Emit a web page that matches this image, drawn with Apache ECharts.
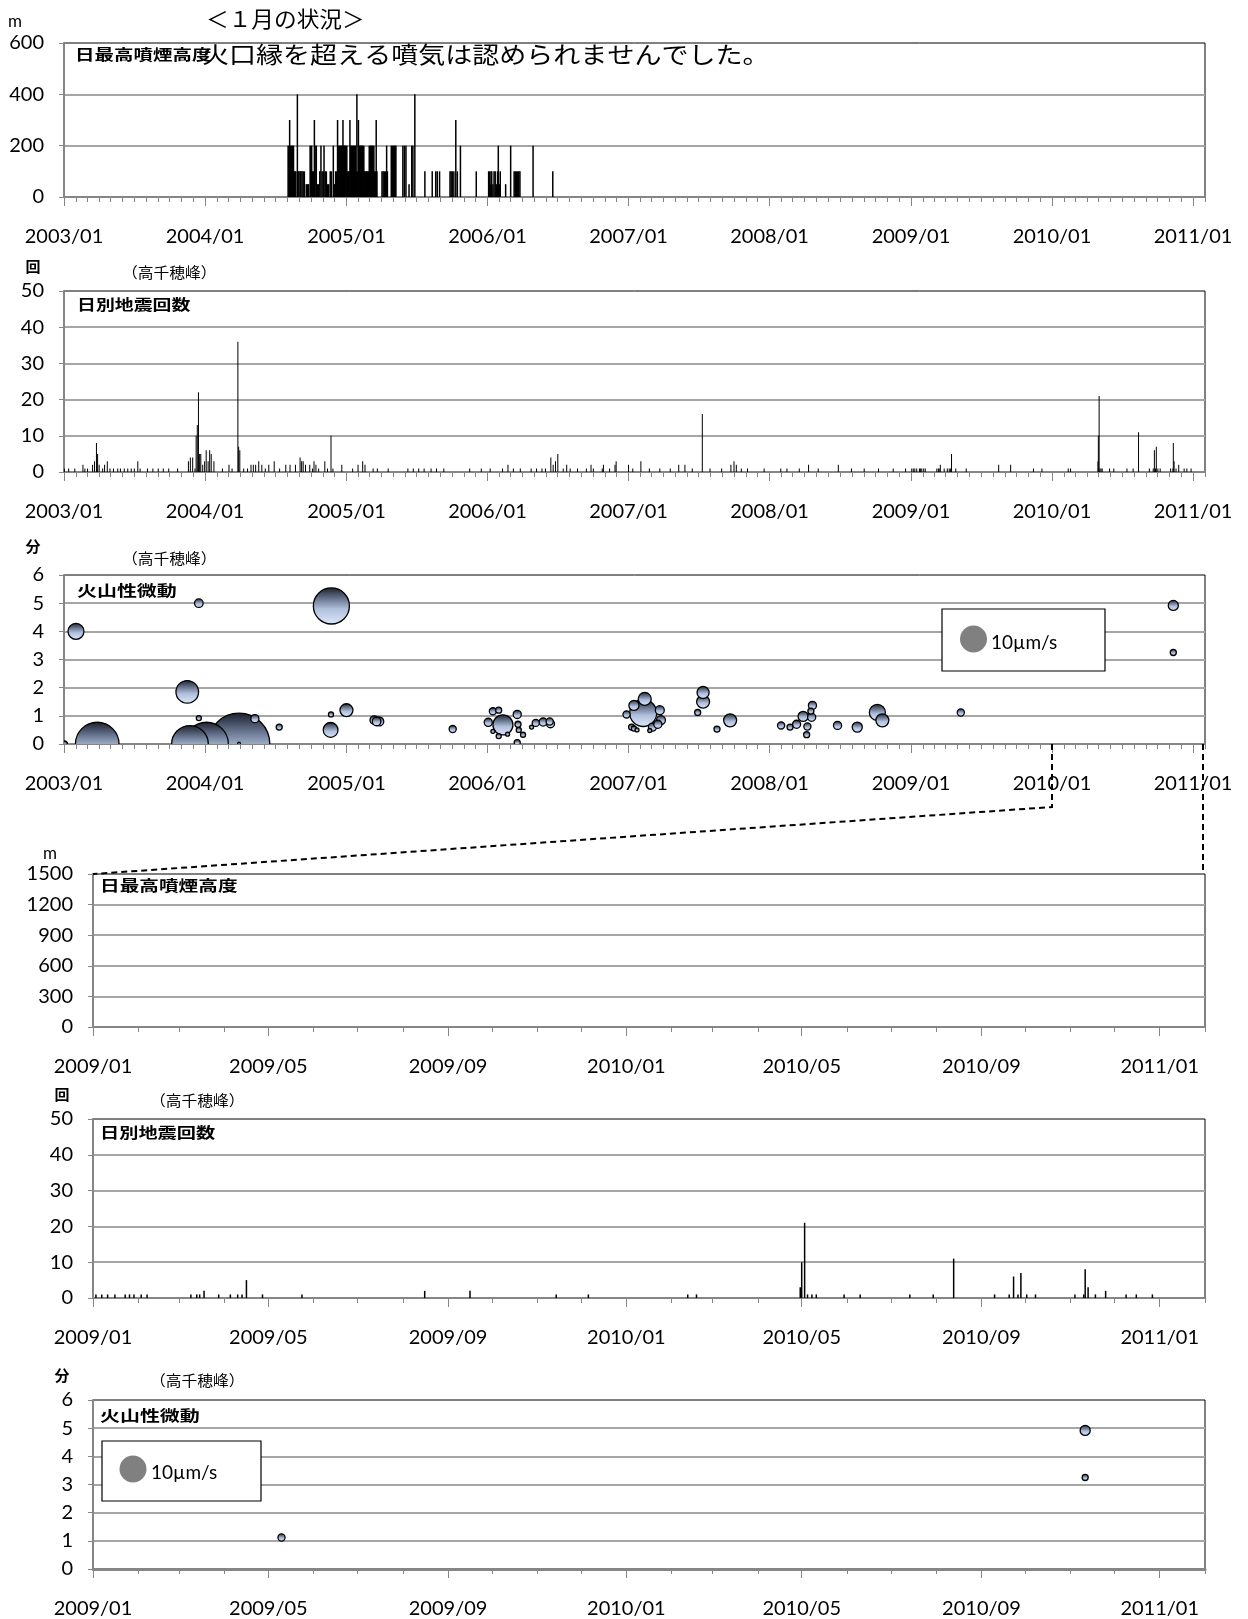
<!DOCTYPE html>
<html><head><meta charset="utf-8">
<script src="https://cdn.jsdelivr.net/npm/echarts@6/dist/echarts.min.js"></script>
<style>html,body{margin:0;padding:0;background:#fff}#c{width:1248px;height:1619px}</style>
</head><body><div id="c"></div>
<script>
// ---------------- DATA ----------------
const longTickLabels = ['2003/01','2004/01','2005/01','2006/01','2007/01','2008/01','2009/01','2010/01','2011/01'];
const shortTickLabels = ['2009/01','2009/05','2009/09','2010/01','2010/05','2010/09','2011/01'];

// 日最高噴煙高度 (m)
const plumeDates = ['2004-08-03','2004-08-05','2004-08-07','2004-08-09','2004-08-11','2004-08-13','2004-08-15','2004-08-17','2004-08-19','2004-08-21','2004-08-23','2004-08-27','2004-08-29','2004-08-31','2004-09-03','2004-09-05','2004-09-08','2004-09-11','2004-09-14','2004-09-19','2004-09-22','2004-09-25','2004-09-29','2004-10-01','2004-10-03','2004-10-05','2004-10-07','2004-10-10','2004-10-12','2004-10-15','2004-10-18','2004-10-21','2004-10-24','2004-10-27','2004-10-30','2004-11-02','2004-11-04','2004-11-07','2004-11-10','2004-11-13','2004-11-16','2004-11-20','2004-11-23','2004-11-28','2004-11-30','2004-12-02','2004-12-04','2004-12-06','2004-12-09','2004-12-11','2004-12-13','2004-12-15','2004-12-17','2004-12-19','2004-12-21','2004-12-23','2004-12-25','2004-12-27','2004-12-29','2004-12-31','2005-01-02','2005-01-04','2005-01-06','2005-01-08','2005-01-10','2005-01-12','2005-01-14','2005-01-16','2005-01-18','2005-01-20','2005-01-22','2005-01-24','2005-01-26','2005-01-28','2005-01-30','2005-02-01','2005-02-03','2005-02-05','2005-02-07','2005-02-09','2005-02-11','2005-02-13','2005-02-15','2005-02-17','2005-02-19','2005-02-21','2005-02-23','2005-02-25','2005-02-27','2005-03-01','2005-03-03','2005-03-05','2005-03-07','2005-03-09','2005-03-11','2005-03-13','2005-03-15','2005-03-17','2005-03-19','2005-03-21','2005-04-03','2005-04-06','2005-04-09','2005-04-12','2005-04-15','2005-04-17','2005-04-27','2005-04-29','2005-05-01','2005-05-03','2005-05-05','2005-05-07','2005-05-09','2005-05-27','2005-05-31','2005-06-04','2005-06-12','2005-06-19','2005-06-22','2005-06-27','2005-07-23','2005-08-11','2005-08-20','2005-08-24','2005-08-30','2005-09-26','2005-09-29','2005-10-02','2005-10-06','2005-10-11','2005-10-15','2005-10-23','2005-12-03','2006-01-04','2006-01-06','2006-01-08','2006-01-10','2006-01-12','2006-01-15','2006-01-18','2006-01-21','2006-01-24','2006-01-27','2006-01-29','2006-02-01','2006-02-03','2006-02-17','2006-03-02','2006-03-11','2006-03-14','2006-03-17','2006-03-20','2006-03-23','2006-03-26','2006-04-29','2006-06-19'];
const plumeHeights = [200,200,300,200,200,200,200,200,100,100,100,400,100,100,100,100,100,100,100,50,50,50,200,200,200,100,100,300,200,200,50,50,100,200,100,100,200,100,100,50,50,100,100,200,50,50,100,100,300,200,200,200,200,200,200,300,200,200,200,200,200,100,100,100,300,200,200,200,200,200,200,200,100,400,100,300,200,200,200,200,200,200,200,100,100,100,100,100,100,200,200,200,200,200,200,200,100,100,300,100,100,100,100,100,200,100,200,200,200,200,200,200,200,200,200,200,50,200,200,400,100,100,100,100,100,100,100,100,100,300,100,200,100,100,100,50,100,100,50,100,100,50,100,200,50,100,50,200,100,100,100,100,100,100,200,100];

// 日別地震回数（高千穂峰）
const quakeDates = ['2003-01-02','2003-01-13','2003-01-29','2003-02-19','2003-02-24','2003-03-03','2003-03-16','2003-03-21','2003-03-26','2003-03-29','2003-04-02','2003-04-11','2003-04-16','2003-04-23','2003-04-30','2003-05-09','2003-05-20','2003-05-27','2003-06-06','2003-06-15','2003-06-24','2003-07-02','2003-07-11','2003-07-17','2003-08-05','2003-08-19','2003-09-02','2003-09-15','2003-09-29','2003-10-22','2003-11-19','2003-11-24','2003-11-30','2003-12-06','2003-12-09','2003-12-12','2003-12-15','2003-12-18','2003-12-21','2003-12-26','2003-12-31','2004-01-04','2004-01-09','2004-01-13','2004-01-17','2004-01-24','2004-02-15','2004-03-03','2004-03-11','2004-03-26','2004-03-28','2004-03-31','2004-04-10','2004-04-20','2004-04-29','2004-05-05','2004-05-11','2004-05-19','2004-05-27','2004-06-05','2004-06-14','2004-06-28','2004-07-12','2004-07-28','2004-08-08','2004-08-22','2004-09-03','2004-09-07','2004-09-11','2004-09-17','2004-09-28','2004-10-05','2004-10-09','2004-10-14','2004-10-21','2004-11-06','2004-11-13','2004-11-22','2004-11-27','2004-12-20','2005-01-17','2005-01-31','2005-02-12','2005-02-18','2005-03-11','2005-03-22','2005-04-19','2005-06-09','2005-06-23','2005-07-07','2005-07-21','2005-08-08','2005-08-22','2005-09-10','2005-11-16','2005-12-16','2006-01-08','2006-02-09','2006-02-23','2006-03-09','2006-03-27','2006-04-24','2006-05-08','2006-05-22','2006-05-31','2006-06-14','2006-06-20','2006-06-26','2006-07-02','2006-07-16','2006-07-25','2006-08-03','2006-08-22','2006-09-14','2006-09-26','2006-10-02','2006-10-25','2006-10-28','2006-11-13','2006-11-27','2006-11-30','2007-01-01','2007-01-12','2007-02-02','2007-02-24','2007-03-23','2007-04-19','2007-05-11','2007-05-27','2007-06-15','2007-07-11','2007-07-31','2007-08-30','2007-09-23','2007-10-01','2007-10-07','2007-10-20','2007-11-05','2007-12-18','2008-01-30','2008-02-15','2008-03-18','2008-04-11','2008-05-06','2008-06-27','2008-07-31','2008-09-02','2008-10-09','2008-11-16','2008-12-18','2009-01-03','2009-01-07','2009-01-11','2009-01-16','2009-01-23','2009-01-26','2009-01-29','2009-02-03','2009-02-07','2009-03-09','2009-03-13','2009-03-15','2009-03-18','2009-03-28','2009-04-05','2009-04-10','2009-04-13','2009-04-16','2009-04-27','2009-05-24','2009-08-16','2009-09-16','2009-11-14','2009-12-06','2010-02-12','2010-02-18','2010-04-30','2010-05-01','2010-05-03','2010-05-05','2010-05-08','2010-05-11','2010-05-30','2010-06-10','2010-07-14','2010-07-30','2010-08-13','2010-09-10','2010-09-20','2010-09-23','2010-09-26','2010-09-28','2010-10-02','2010-10-08','2010-11-04','2010-11-10','2010-11-11','2010-11-13','2010-11-18','2010-11-25','2010-12-09','2010-12-16','2010-12-27'];
const quakeCounts = [1,1,1,2,1,1,2,3,8,5,2,1,2,3,1,1,1,1,1,1,1,1,3,1,1,1,1,1,1,1,3,4,4,1,10,13,22,5,5,2,3,6,3,6,5,3,1,2,1,36,7,6,1,1,2,2,2,3,2,1,2,3,1,2,2,2,4,3,3,2,2,1,3,2,1,3,1,10,1,2,1,2,3,2,1,1,1,1,1,1,1,1,1,1,1,1,1,1,2,1,1,1,1,1,1,4,2,3,5,1,2,1,1,1,2,1,1,2,1,2,3,2,1,3,1,1,1,2,2,1,16,1,1,2,3,2,1,1,1,1,1,1,2,1,2,1,1,1,1,1,1,1,1,1,1,1,1,1,1,1,1,1,2,1,1,1,1,5,1,1,2,2,1,1,1,1,3,10,21,1,1,1,1,1,1,1,11,1,1,6,1,7,1,1,1,1,8,3,1,2,1,1,1,1];

// 火山性微動（高千穂峰）: date, duration (分), amplitude (µm/s)
const tremorDates = ['2003-01-02','2003-02-01','2003-03-28','2003-11-16','2003-11-23','2003-12-16','2003-12-16','2004-01-05','2004-03-29','2004-03-29','2004-05-09','2004-07-11','2004-11-21','2004-11-22','2004-11-23','2005-01-01','2005-03-14','2005-03-20','2005-03-27','2005-10-03','2006-01-03','2006-01-15','2006-01-15','2006-01-30','2006-01-30','2006-02-10','2006-02-22','2006-03-19','2006-03-21','2006-03-23','2006-03-19','2006-04-03','2006-04-25','2006-05-06','2006-05-25','2006-06-13','2006-06-11','2006-12-27','2007-01-09','2007-01-15','2007-01-15','2007-01-23','2007-02-08','2007-02-12','2007-02-25','2007-03-04','2007-03-18','2007-03-23','2007-03-26','2007-06-29','2007-07-13','2007-07-13','2007-08-18','2007-09-21','2008-01-31','2008-02-23','2008-03-11','2008-03-28','2008-04-06','2008-04-08','2008-04-17','2008-04-19','2008-04-21','2008-06-25','2008-08-15','2008-10-06','2008-10-19','2009-05-10','2010-11-11','2010-11-11'];
const tremorMinutes = [0,4.0,0,1.85,0,5.0,0.92,0,0,0.02,0.9,0.6,0.5,1.05,4.9,1.2,0.85,0.8,0.8,0.53,0.77,1.16,0.45,1.2,0.28,0.68,0.35,1.05,0.7,0.5,0.05,0.33,0.6,0.75,0.78,0.72,0.8,1.05,0.6,1.37,0.55,0.5,1.1,1.6,0.48,0.6,0.7,1.2,0.85,1.12,1.83,1.5,0.53,0.84,0.66,0.6,0.7,0.98,0.33,0.62,1.17,0.95,1.37,0.66,0.6,1.12,0.84,1.12,4.92,3.25];
const tremorAmps = [0.5,3.5,26,7,18.5,1.0,0.35,26,52,0.1,0.9,0.5,3,0.35,17.8,2.3,1.0,1.0,1.1,0.7,0.9,0.7,0.22,0.5,0.35,5.5,0.22,0.9,0.5,0.35,0.5,0.35,0.22,0.7,0.9,0.9,0.7,0.7,0.5,1.4,0.35,0.22,10,2.3,0.22,0.9,0.9,1.1,1.1,0.5,2.0,2.3,0.5,2.3,0.7,0.5,0.9,1.4,0.5,0.7,0.5,0.9,0.9,0.9,1.4,3.5,2.3,0.7,1.4,0.5];
const legendAmp = 10; // µm/s

// ---------------- HELPERS ----------------
function ts(s){ const p = s.split('-'); return new Date(+p[0], +p[1]-1, +(p[2]||1)).getTime(); }
function lblTs(s){ const p = s.split('/'); return new Date(+p[0], +p[1]-1, 1).getTime(); }
function fmt(v){ const d = new Date(v); return d.getFullYear() + '/' + String(d.getMonth()+1).padStart(2,'0'); }
function bubbleDiameter(a){ return 27 * Math.sqrt(a / legendAmp); }

const plumeData = plumeDates.map((d,i)=>[ts(d), plumeHeights[i]]);
const quakeData = quakeDates.map((d,i)=>[ts(d), quakeCounts[i]]);
const tremorData = tremorDates.map((d,i)=>[ts(d), tremorMinutes[i], tremorAmps[i]])
  .sort((a,b)=>b[2]-a[2]);

const LONG_MIN = ts('2003-01-01'), SHORT_MIN = ts('2009-01-01'), AX_MAX = ts('2011-02-01');
const AXC = '#868686', GRIDC = '#a6a6a6';
const NUMFONT = 'Lato';
const JP = '"Noto Sans CJK JP"';

const grids = [
  {left:64, right:43, top:43, height:154},
  {left:64, right:43, top:291, height:181},
  {left:64, right:43, top:575, height:169},
  {left:93, right:43, top:874, height:153},
  {left:93, right:43, top:1119, height:179},
  {left:93, right:43, top:1400, height:169}
].map(g=>Object.assign(g, {show:true, borderColor:'#000', borderWidth:1, backgroundColor:'transparent', containLabel:false, outerBoundsMode:'none'}));

function xAxesFor(gi, min, labels, lineW){
  const majors = labels.map(lblTs);
  const months = [];
  const d = new Date(min);
  while (d.getTime() <= AX_MAX) { months.push(d.getTime()); d.setMonth(d.getMonth()+1); }
  return [
    {type:'value', gridIndex:gi, position:'bottom', min:min, max:AX_MAX, scale:true,
     axisLine:{show:true, onZero:false, lineStyle:{color:AXC, width:lineW}},
     axisTick:{show:true, length:9, customValues:majors, lineStyle:{color:AXC, width:1}},
     axisLabel:{show:true, customValues:majors, formatter:fmt, margin:30, fontSize:20, fontFamily:NUMFONT, color:'#000', showMinLabel:true, showMaxLabel:true},
     splitLine:{show:false}, minorTick:{show:false}},
    {type:'value', gridIndex:gi, position:'bottom', min:min, max:AX_MAX, scale:true,
     axisLine:{show:false, onZero:false}, axisTick:{show:true, length:5, customValues:months, lineStyle:{color:AXC, width:1}},
     axisLabel:{show:false, customValues:months}, splitLine:{show:false}}
  ];
}
function yAxisFor(gi, max, interval){
  return {type:'value', gridIndex:gi, min:0, max:max, interval:interval,
    axisLine:{show:true, lineStyle:{color:AXC, width:2}},
    axisTick:{show:true, length:5, lineStyle:{color:AXC, width:1}},
    axisLabel:{margin:20, fontSize:20, fontFamily:NUMFONT, color:'#000', formatter:v=>String(v)},
    splitLine:{show:true, showMaxLine:false, showMinLine:false, lineStyle:{color:GRIDC, width:2}}};
}

const bubbleFill = () => new echarts.graphic.LinearGradient(0,0,0,1,[
  {offset:0, color:'#1a1f2b'}, {offset:0.3, color:'#66748f'}, {offset:0.58, color:'#b0bfdb'}, {offset:1, color:'#dde8f9'}]);
function bubbleRender(params, api){
  const p = api.coord([api.value(0), api.value(1)]);
  const r = bubbleDiameter(api.value(2)) / 2;
  return {type:'circle', shape:{cx:p[0], cy:p[1], r:r}, style:{fill:bubbleFill(), stroke:'#000', lineWidth:1.3}};
}

const xAxis = [].concat(
  xAxesFor(0, LONG_MIN, longTickLabels, 2), xAxesFor(1, LONG_MIN, longTickLabels, 2), xAxesFor(2, LONG_MIN, longTickLabels, 2),
  xAxesFor(3, SHORT_MIN, shortTickLabels, 2), xAxesFor(4, SHORT_MIN, shortTickLabels, 2), xAxesFor(5, SHORT_MIN, shortTickLabels, 3));
const yAxis = [yAxisFor(0,600,200), yAxisFor(1,50,10), yAxisFor(2,6,1), yAxisFor(3,1500,300), yAxisFor(4,50,10), yAxisFor(5,6,1)];

const series = [
  {type:'bar', xAxisIndex:0, yAxisIndex:0, data:plumeData, barWidth:1.5, itemStyle:{color:'#000'}, clip:true},
  {type:'bar', xAxisIndex:2, yAxisIndex:1, data:quakeData, barWidth:1, itemStyle:{color:'#000'}, clip:true},
  {type:'custom', xAxisIndex:4, yAxisIndex:2, data:tremorData, dimensions:['date','min','amp'], encode:{x:0, y:1}, renderItem:bubbleRender, clip:true},
  {type:'bar', xAxisIndex:6, yAxisIndex:3, data:plumeData, barWidth:1.5, itemStyle:{color:'#000'}, clip:true},
  {type:'bar', xAxisIndex:8, yAxisIndex:4, data:quakeData, barWidth:1.5, itemStyle:{color:'#000'}, clip:true},
  {type:'custom', xAxisIndex:10, yAxisIndex:5, data:tremorData, dimensions:['date','min','amp'], encode:{x:0, y:1}, renderItem:bubbleRender, clip:true}
];

const chart = echarts.init(document.getElementById('c'), null, {renderer:'canvas', width:1248, height:1619});
chart.setOption({animation:false, backgroundColor:'#fff', grid:grids, xAxis:xAxis, yAxis:yAxis, series:series});

// ---------------- TEXT / ANNOTATIONS ----------------
function txt(x, y, s, size, o){
  o = o || {};
  return {type:'text', x:x, y:y, scaleX:o.sx||1, z:100,
    style:{text:s, fontSize:size, fontWeight:o.bold?'bold':'normal', fontFamily:o.family||JP, fill:'#000', align:o.align||'left', verticalAlign:'middle'}};
}
function legendBox(x0, y0, w, h, cx, cy, tx){
  const d = bubbleDiameter(legendAmp);
  return [
    {type:'rect', z:90, shape:{x:x0, y:y0, width:w, height:h}, style:{fill:'#fff', stroke:'#000', lineWidth:1.2}},
    {type:'circle', z:95, shape:{cx:cx, cy:cy, r:d/2}, style:{fill:'#808080'}},
    txt(tx, cy+4, '10µm/s', 19, {family:NUMFONT})
  ];
}

const x2010 = chart.convertToPixel({xAxisIndex:4}, ts('2010-01-01'));
const xRight3 = chart.convertToPixel({xAxisIndex:4}, AX_MAX) - 2;
const y0p3 = chart.convertToPixel({yAxisIndex:2}, 0);
const xLeft4 = chart.convertToPixel({xAxisIndex:6}, SHORT_MIN);
const yTop4 = chart.convertToPixel({yAxisIndex:3}, 1500);

const graphics = [
  txt(206, 19, '＜１月の状況＞', 22, {sx:1.03}),
  txt(75, 54, '日最高噴煙高度', 15, {bold:true, sx:1.3}),
  txt(202, 54, '火口縁を超える噴気は認められませんでした。', 23, {sx:1.175}),
  txt(15, 22, 'm', 17, {align:'center', family:NUMFONT}),
  txt(33, 266, '回', 15, {bold:true, align:'center'}),
  txt(122, 272, '（高千穂峰）', 15, {sx:1.05}),
  txt(77, 304, '日別地震回数', 15, {bold:true, sx:1.26}),
  txt(33, 546, '分', 15, {bold:true, align:'center'}),
  txt(122, 558, '（高千穂峰）', 15, {sx:1.05}),
  txt(77, 590, '火山性微動', 15, {bold:true, sx:1.33}),
  txt(50, 854, 'm', 17, {align:'center', family:NUMFONT}),
  txt(100, 885, '日最高噴煙高度', 15, {bold:true, sx:1.31}),
  txt(62, 1094, '回', 15, {bold:true, align:'center'}),
  txt(150, 1100, '（高千穂峰）', 15, {sx:1.05}),
  txt(100, 1132, '日別地震回数', 15, {bold:true, sx:1.28}),
  txt(62, 1375, '分', 15, {bold:true, align:'center'}),
  txt(150, 1380, '（高千穂峰）', 15, {sx:1.05}),
  txt(100, 1415, '火山性微動', 15, {bold:true, sx:1.33}),
  {type:'polyline', z:80, shape:{points:[[x2010, y0p3], [x2010, 807], [xLeft4, yTop4]]}, style:{stroke:'#000', lineWidth:2, lineDash:[6,4], fill:null}},
  {type:'polyline', z:80, shape:{points:[[xRight3, y0p3], [xRight3, yTop4]]}, style:{stroke:'#000', lineWidth:2, lineDash:[6,4], fill:null}}
].concat(legendBox(942, 609, 163, 62, 973.5, 639, 991), legendBox(102, 1441, 159, 60, 133, 1469, 151));

chart.setOption({graphic:{elements:graphics}});
</script>
</body></html>
